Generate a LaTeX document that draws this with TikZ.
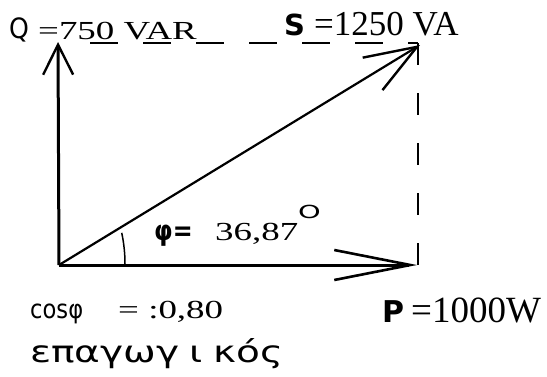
\documentclass[tikz,border=0pt]{standalone}
\usepackage{fontspec}
\setmainfont{Liberation Serif}
\newfontfamily\greekfont{DejaVu Sans}
\usetikzlibrary{arrows.meta,positioning}
\tikzset{
    vec/.style={line width=3pt, black},
    svec/.style={line width=2.2pt, black},
    dashln/.style={line width=1.6pt, black, dash pattern=on 22pt off 28pt},
    lbl/.style={anchor=base west, inner sep=0pt},
}

\begin{document}
\begin{tikzpicture}[x=1pt,y=-1pt]
    \useasboundingbox (0,0) rectangle (547,376);
    \coordinate (O) at (59,265);
    \coordinate (Qtip) at (58,42);
    \coordinate (Ptip) at (417,265);
    \coordinate (Stip) at (420,45);
    \coordinate (Scorner) at (418,43);
    \coordinate (Pcorner) at (418,265);
    \coordinate (dashstart) at (90,43);
    \coordinate (markbase) at (125,264);
    % dashed projection lines
    \draw[dashln] (Scorner) -- (Pcorner);
    \draw[dashln, dash pattern=on 28pt off 25pt] (dashstart) -- (Scorner);
    % power vectors
    \draw[vec, -{Straight Barb[length=30pt,width=30pt,line width=2.4pt]}] (O) -- (Qtip);
    \draw[vec, -{Straight Barb[length=76pt,width=30pt,line width=2.6pt]}] (O) -- (Ptip);
    \draw[svec, -{Straight Barb[length=52pt,width=38pt,line width=2.4pt]}] (O) -- (Stip);
    % angle mark
    \draw[line width=1.5pt] (markbase) arc[start angle=0, end angle=-12, radius=150];
    % labels
    \node[lbl, font={\greekfont\fontsize{28}{32}\selectfont}] (Qsym) at (9,38) {\scalebox{0.9}[1]{Q}};
    \node[lbl, font={\fontsize{26}{30}\selectfont}] (Qval) at (38,39) {\scalebox{1.42}[1]{=750 VAR}};
    \node[lbl, font={\greekfont\bfseries\fontsize{29}{34}\selectfont}] (Ssym) at (284,35) {S};
    \node[lbl, font={\fontsize{35}{40}\selectfont}] (Sval) at (314,35) {=1250 VA};
    \node[lbl, font={\greekfont\bfseries\fontsize{28}{32}\selectfont}] (phisym) at (154,240) {\scalebox{0.85}[1]{φ=}};
    \node[lbl, font={\fontsize{26}{30}\selectfont}] (phival) at (215,240) {\scalebox{1.42}[1]{36,87}};
    \node[lbl, font={\greekfont\fontsize{18}{20}\selectfont}] (deg) at (298,218) {\scalebox{1.6}[1]{O}};
    \node[lbl, font={\greekfont\fontsize{26}{30}\selectfont}] (cossym) at (30,318) {\scalebox{0.87}[1]{cosφ}};
    \node[lbl, font={\fontsize{26}{30}\selectfont}] (cosval) at (118,318) {\scalebox{1.42}[1]{= :0,80}};
    \node[lbl, font={\greekfont\fontsize{30}{34}\selectfont}] (kind) at (30,362) {\scalebox{1.3}[1]{επαγωγ\hspace{8pt}ι\hspace{8pt}κός}};
    \node[lbl, font={\greekfont\bfseries\fontsize{30}{34}\selectfont}] (Psym) at (382,322) {P};
    \node[lbl, font={\fontsize{37}{40}\selectfont}] (Pval) at (411,322) {=1000W};
\end{tikzpicture}
\end{document}
